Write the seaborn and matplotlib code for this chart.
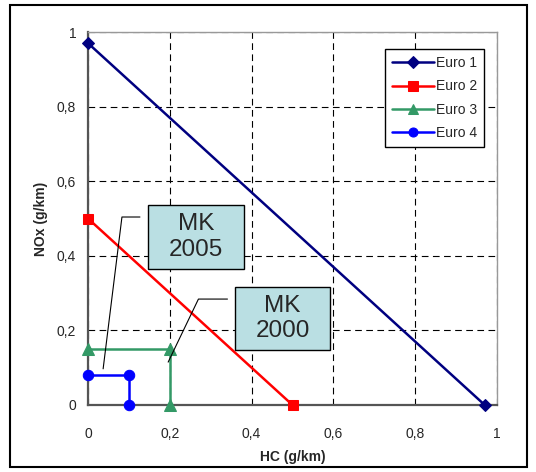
import matplotlib
matplotlib.use("Agg")
import matplotlib.pyplot as plt
import seaborn as sns
import pandas as pd
from matplotlib.patches import Rectangle

# ---- data ----
series_names = ["Euro 1", "Euro 2", "Euro 3", "Euro 4"]
euro1_hc = [0.0, 0.97]
euro1_nox = [0.97, 0.0]
euro2_hc = [0.0, 0.5]
euro2_nox = [0.5, 0.0]
euro3_hc = [0.0, 0.2, 0.2]
euro3_nox = [0.15, 0.15, 0.0]
euro4_hc = [0.0, 0.1, 0.1]
euro4_nox = [0.08, 0.08, 0.0]
tick_values = [0, 0.2, 0.4, 0.6, 0.8, 1]
tick_labels = ["0", "0,2", "0,4", "0,6", "0,8", "1"]

sns.set_style("white")
plt.rcParams["font.family"] = ["Liberation Sans", "DejaVu Sans"]

fig = plt.figure(figsize=(5.36, 4.72), dpi=100)
ax = fig.add_axes([88 / 536, 1 - 405 / 472, (497 - 88) / 536, (405 - 32) / 472])

colors = ["#000080", "#FF0000", "#339966", "#0000FF"]
markers = ["D", "s", "^", "o"]
msizes = [6.5, 7.5, 8, 7.5]
xs = [euro1_hc, euro2_hc, euro3_hc, euro4_hc]
ys = [euro1_nox, euro2_nox, euro3_nox, euro4_nox]

for name, x, y, c, m, ms in zip(series_names, xs, ys, colors, markers, msizes):
    df = pd.DataFrame({"HC": x, "NOx": y})
    sns.lineplot(data=df, x="HC", y="NOx", sort=False, estimator=None, ax=ax,
                 color=c, marker=m, markersize=ms, markeredgecolor=c,
                 linewidth=1.8, label=name, clip_on=False, zorder=3)

ax.set_xlim(0, 1)
ax.set_ylim(0, 1)
ax.set_xticks(tick_values)
ax.set_xticklabels(tick_labels)
ax.set_yticks(tick_values)
ax.set_yticklabels(tick_labels)
ax.tick_params(axis="both", direction="inout", length=7, width=1, color="#333333",
               labelsize=10)
ax.tick_params(axis="x", pad=12)
ax.tick_params(axis="y", pad=5)

ax.grid(True, color="black", linestyle=(0, (6, 4)), linewidth=0.8)

for s in ["left", "bottom"]:
    ax.spines[s].set_color("#555555")
    ax.spines[s].set_linewidth(1.6)
for s in ["top", "right"]:
    ax.spines[s].set_color("#999999")
    ax.spines[s].set_linewidth(1.0)
    ax.spines[s].set_linestyle((0, (6, 1)))
ax.set_axisbelow(True)

ax.set_xlabel("HC (g/km)", fontsize=10, fontweight="bold", labelpad=7)
ax.set_ylabel("NOx (g/km)", fontsize=10, fontweight="bold", labelpad=6)

leg = ax.legend(loc="upper right", bbox_to_anchor=((484 - 88) / 409, (405 - 49) / 373),
                fontsize=10, frameon=True, fancybox=False, framealpha=1,
                edgecolor="black", borderpad=0.5, labelspacing=0.68,
                handlelength=3.0, handletextpad=0.15, borderaxespad=0)
leg.get_frame().set_linewidth(1.0)
for h in leg.legend_handles:
    h.set_markersize(6.5)

# ---- annotations (MK boxes with leader lines) ----
boxes = [((0.147, 0.365), 0.235, 0.171, "MK\n2005"),
         ((0.360, 0.147), 0.232, 0.169, "MK\n2000")]
for (x0, y0), w, h, txt in boxes:
    ax.add_patch(Rectangle((x0, y0), w, h, facecolor="#BADFE3", edgecolor="black",
                           linewidth=1.0, zorder=5))
    ax.text(x0 + w / 2, y0 + h / 2, txt, ha="center", va="center", fontsize=17.5,
            linespacing=1.2, zorder=6)
ax.plot([0.127, 0.083, 0.037], [0.504, 0.504, 0.097], color="black", linewidth=0.8, zorder=4)
ax.plot([0.341, 0.270, 0.196], [0.284, 0.284, 0.115], color="black", linewidth=0.8, zorder=4)

# figure border
fig.patches.append(Rectangle((10 / 536, 1 - 467 / 472), 517 / 536, 462 / 472,
                             transform=fig.transFigure, fill=False,
                             edgecolor="black", linewidth=1.5))

fig.savefig("out.png", dpi=100)
